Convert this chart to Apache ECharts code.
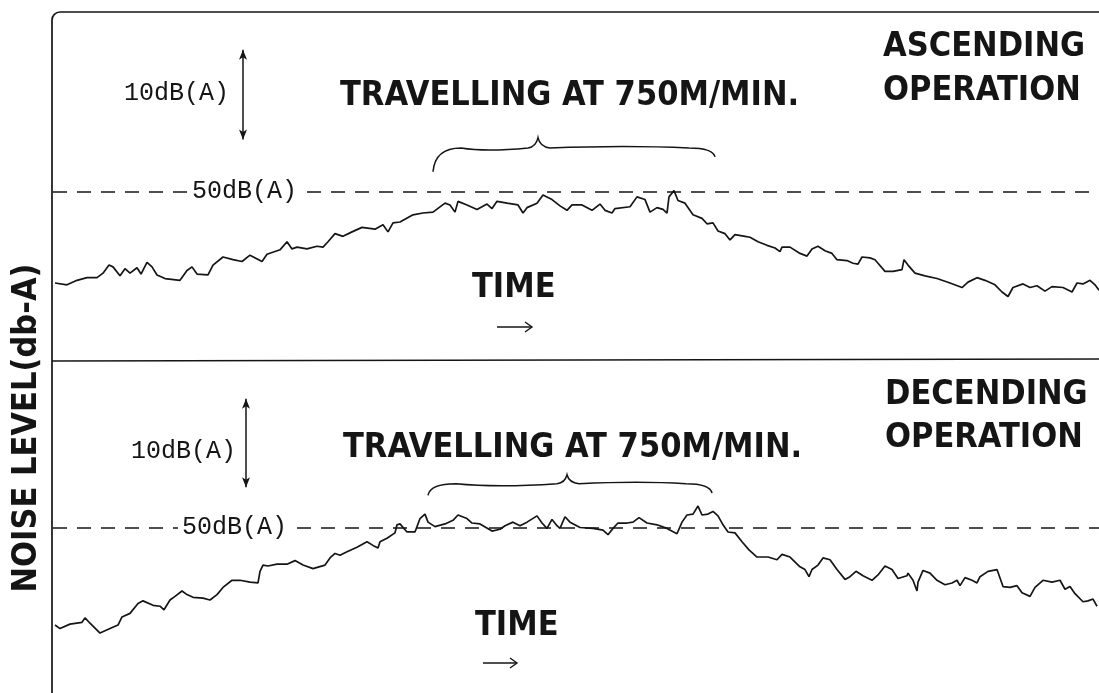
<!DOCTYPE html>
<html><head><meta charset="utf-8">
<script src="https://cdn.jsdelivr.net/npm/echarts@6/dist/echarts.min.js"></script>
<style>html,body{margin:0;padding:0;background:#fff}#c{width:1099px;height:693px}</style>
</head><body><div id="c"></div>
<script>
// time (arbitrary units) , noise level dB(A)
const ascendingTrace = [[0.2,39.8],[0.4,39.6],[1.4,39.6],[2.4,40.1],[3.4,40.4],[4.4,40.4],[5.0,40.9],[5.6,41.8],[6.0,41.6],[6.7,40.6],[7.2,41.4],[7.7,40.9],[8.4,41.5],[8.8,40.8],[9.4,42.1],[9.9,41.6],[10.4,40.7],[11.2,40.3],[12.7,40.1],[13.4,41.2],[13.9,41.6],[14.4,40.8],[15.5,40.7],[16.0,41.8],[17.0,42.7],[18.0,42.4],[18.9,42.2],[19.7,42.9],[20.9,42.2],[21.4,43.0],[22.7,43.5],[23.4,44.4],[23.9,43.6],[24.4,43.8],[25.4,43.6],[26.4,43.9],[27.0,43.8],[27.5,44.4],[28.2,45.3],[29.0,45.0],[29.9,45.5],[30.9,46.0],[32.2,45.8],[33.0,46.3],[33.5,45.5],[34.0,46.5],[34.7,46.6],[36.0,47.4],[37.0,47.6],[38.0,47.7],[39.2,48.7],[39.7,48.5],[40.2,47.7],[40.5,48.9],[41.4,48.5],[42.4,48.0],[43.4,48.6],[43.9,48.1],[44.4,48.9],[45.4,48.7],[46.5,48.5],[47.0,47.6],[47.4,48.2],[48.4,48.7],[49.0,49.6],[49.9,49.1],[50.7,48.4],[51.4,47.9],[51.9,48.5],[52.9,48.5],[53.9,47.9],[54.7,48.6],[55.2,47.9],[55.9,47.6],[56.2,48.1],[57.7,48.3],[58.4,49.4],[59.2,49.1],[59.7,47.7],[60.4,48.2],[61.0,48.0],[61.4,47.6],[61.6,49.4],[62.1,50.1],[62.5,49.0],[63.2,48.7],[64.0,47.4],[64.9,47.0],[65.4,46.4],[66.0,46.5],[66.5,45.6],[67.2,45.3],[67.7,44.6],[68.2,45.2],[69.2,45.0],[69.7,44.9],[70.5,44.4],[71.4,44.0],[72.2,43.7],[72.7,43.3],[72.9,43.8],[73.7,43.8],[74.7,43.1],[75.4,42.8],[75.9,43.6],[76.5,43.9],[77.2,43.4],[77.9,43.1],[78.4,42.4],[79.4,42.3],[80.0,42.0],[80.5,41.9],[80.9,42.7],[81.7,42.6],[82.2,42.4],[82.5,42.0],[83.2,41.1],[84.0,41.1],[84.9,41.3],[85.1,42.4],[85.5,41.8],[86.2,40.9],[87.2,40.6],[88.4,40.3],[89.7,39.8],[90.9,39.3],[91.5,39.9],[92.4,40.4],[93.2,40.1],[94.2,39.6],[94.9,38.8],[95.5,38.3],[96.0,39.3],[97.0,39.7],[97.7,39.3],[98.4,39.5],[99.2,38.9],[99.9,39.4],[101.0,39.3],[101.9,38.8],[102.4,39.8],[103.0,39.7],[103.7,40.1],[104.2,39.6],[104.6,39.0]];

const descendingTrace = [[0.2,39.1],[0.7,38.7],[1.7,39.2],[2.9,39.4],[3.2,39.9],[3.7,39.3],[4.7,38.2],[5.7,38.7],[6.5,39.1],[6.9,40.0],[7.7,40.4],[8.5,41.5],[9.0,41.8],[10.0,41.3],[10.7,41.2],[11.1,40.8],[11.7,41.9],[12.2,42.3],[12.9,42.9],[13.4,42.5],[14.0,42.2],[15.0,42.1],[15.7,41.9],[16.4,42.5],[17.0,43.3],[17.9,44.1],[18.7,44.1],[19.7,43.9],[20.5,43.8],[20.7,45.1],[21.0,45.8],[21.5,45.7],[22.4,45.9],[23.4,45.9],[24.2,46.3],[25.0,45.8],[26.0,45.4],[27.2,45.8],[27.7,46.6],[28.2,47.1],[28.7,46.9],[29.4,47.3],[30.4,47.8],[31.4,48.4],[32.0,48.0],[32.5,47.7],[32.7,48.4],[33.4,48.8],[34.2,49.4],[34.4,50.3],[34.7,50.4],[35.4,49.5],[36.2,49.5],[36.7,51.0],[37.2,51.5],[37.5,50.6],[38.2,50.1],[39.2,50.4],[40.0,50.8],[40.5,51.4],[41.4,51.0],[41.9,50.5],[42.7,50.4],[43.9,49.6],[44.7,49.8],[45.2,50.2],[46.0,50.6],[46.7,50.2],[47.4,50.6],[48.4,51.3],[48.9,50.5],[49.4,49.9],[49.9,50.9],[50.4,50.2],[50.7,49.9],[51.2,51.2],[51.7,50.6],[52.7,50.0],[54.0,49.9],[55.0,49.7],[55.5,49.2],[56.0,49.9],[56.5,50.5],[57.4,50.5],[58.0,50.6],[58.6,51.1],[59.4,50.5],[60.4,50.3],[61.4,49.9],[62.4,49.3],[62.9,50.6],[63.4,51.4],[64.0,51.5],[64.5,52.4],[64.9,51.4],[65.5,51.5],[66.0,51.8],[66.5,51.3],[67.0,50.3],[67.5,49.5],[68.2,49.4],[68.9,48.4],[69.6,47.5],[70.4,46.7],[71.5,46.7],[72.4,46.4],[72.9,47.0],[73.7,46.7],[74.7,45.6],[75.2,45.3],[75.6,44.5],[75.9,45.3],[76.5,45.8],[77.0,46.6],[77.7,46.4],[78.4,45.3],[79.2,44.2],[79.7,44.5],[80.3,45.1],[81.0,44.6],[81.9,44.1],[82.5,44.7],[83.2,45.7],[83.9,45.3],[84.5,44.3],[85.4,44.6],[85.5,44.9],[86.0,44.1],[86.4,42.9],[86.5,43.9],[87.0,45.2],[87.7,44.9],[88.4,44.1],[89.2,43.6],[89.9,43.8],[90.4,44.1],[90.7,43.5],[91.2,44.4],[91.9,44.1],[92.4,43.8],[92.7,44.5],[93.5,45.1],[94.4,45.3],[95.0,43.4],[95.7,43.3],[96.4,43.5],[96.9,42.7],[97.7,42.3],[98.2,43.3],[99.0,44.1],[99.9,43.9],[100.7,44.1],[101.2,43.1],[101.7,43.4],[102.2,42.6],[103.0,41.7],[103.5,41.8],[104.0,42.0],[104.4,41.2]];

const timeRange = [0, 104.6];
const panelLevelRanges = [[31, 70], [31.5, 68.5]];
const referenceLevel = 50;
const referenceLabel = '50dB(A)';
const scaleBarLabel = '10dB(A)';
// reference dashed line gaps (label space) per panel, in time units
const refGaps = [[13.5, 25.4], [12.5, 24.4]];
// 10 dB scale bar: [time, from dB, to dB]
const scaleBars = [[19.0, 55.8, 65.8], [19.3, 54.5, 64.4]];
// braces marking the 750 m/min travel: [tStart, dBStart, tTip, dBTip, tEnd, dBEnd, dBBody]
const braces = [[38.0, 52.2, 48.5, 56.0, 66.2, 53.85, 54.85], [37.5, 53.6, 51.4, 55.9, 65.9, 53.85, 54.9]];
const panelTitles = [['ASCENDING', 'OPERATION'], ['DECENDING', 'OPERATION']];
const travelLabel = 'TRAVELLING AT 750M/MIN.';
const timeLabel = 'TIME';
const yTitle = 'NOISE LEVEL(db-A)';

const INK = '#151515';
const HEAD_FONT = "'DejaVu Sans Condensed','Liberation Sans Narrow','DejaVu Sans',sans-serif";
const MONO_FONT = "'Liberation Mono','DejaVu Sans Mono',monospace";

function panelSeries(trace, idx) {
  const g = refGaps[idx], sb = scaleBars[idx];
  return {
    type: 'line', xAxisIndex: idx, yAxisIndex: idx, data: trace,
    symbol: 'none', silent: true, animation: false,
    lineStyle: { color: INK, width: 1.7 },
    markLine: {
      silent: true, animation: false, symbol: 'none',
      label: { show: false },
      data: [
        [{ coord: [timeRange[0], referenceLevel],
           label: { show: true, position: 'end', distance: 4, formatter: referenceLabel,
                    color: INK, fontFamily: MONO_FONT, fontSize: 25 },
           lineStyle: { color: INK, width: 1.6, type: [14, 10] } },
         { coord: [g[0], referenceLevel] }],
        [{ coord: [g[1], referenceLevel], lineStyle: { color: INK, width: 1.6, type: [14, 10] } },
         { coord: [timeRange[1], referenceLevel] }],
        [{ coord: [sb[0], sb[1]], symbol: 'arrow', symbolSize: [6, 10],
           lineStyle: { color: INK, width: 1.5, type: 'solid' } },
         { coord: [sb[0], sb[2]], symbol: 'arrow', symbolSize: [6, 10] }]
      ]
    }
  };
}

function braceSeries(idx) {
  return {
    type: 'custom', xAxisIndex: idx, yAxisIndex: idx, silent: true, animation: false,
    data: [braces[idx]],
    renderItem: function (params, api) {
      const p0 = api.coord([api.value(0), api.value(1)]);
      const pt = api.coord([api.value(2), api.value(3)]);
      const p1 = api.coord([api.value(4), api.value(5)]);
      const yb = api.coord([api.value(2), api.value(6)])[1];
      const d = `M${p0[0]},${p0[1]} Q${p0[0] + 2},${yb} ${p0[0] + 28},${yb} ` +
        `Q${(p0[0] + pt[0]) / 2},${yb + 4} ${pt[0] - 10},${yb} Q${pt[0] - 2},${yb - 1} ${pt[0]},${pt[1]} ` +
        `Q${pt[0] + 2},${yb - 1} ${pt[0] + 12},${yb} Q${(pt[0] + p1[0]) / 2},${yb - 3} ${p1[0] - 26},${yb} ` +
        `Q${p1[0] - 2},${yb} ${p1[0]},${p1[1]}`;
      return { type: 'path', shape: { pathData: d },
               style: { fill: 'none', stroke: INK, lineWidth: 1.5 } };
    }
  };
}

function txt(text, x, y, opts) {
  opts = opts || {};
  return {
    type: 'text', x: x, y: y, rotation: opts.rotation || 0, silent: true,
    style: {
      text: text, fill: INK,
      font: (opts.weight || 'bold') + ' ' + (opts.size || 34) + 'px ' + (opts.family || HEAD_FONT),
      textAlign: opts.align || 'left', align: opts.align || 'left',
      textVerticalAlign: 'middle', verticalAlign: 'middle'
    }
  };
}

function timeArrow(x0, x1, y) {
  return {
    type: 'group', silent: true, children: [
      { type: 'line', shape: { x1: x0, y1: y, x2: x1, y2: y }, style: { stroke: INK, lineWidth: 1.4 } },
      { type: 'polyline', shape: { points: [[x1 - 7, y - 5], [x1, y], [x1 - 7, y + 5]] },
        style: { stroke: INK, lineWidth: 1.4, fill: 'none' } }
    ]
  };
}

const chart = echarts.init(document.getElementById('c'), null, { renderer: 'canvas' });
chart.setOption({
  animation: false,
  backgroundColor: '#ffffff',
  grid: [
    { left: 53, right: 0, top: 12, height: 350 },
    { left: 53, right: 0, top: 362, height: 331 }
  ],
  xAxis: [0, 1].map(i => ({ type: 'value', gridIndex: i, min: timeRange[0], max: timeRange[1], show: false })),
  yAxis: [0, 1].map(i => ({ type: 'value', gridIndex: i, min: panelLevelRanges[i][0], max: panelLevelRanges[i][1],
                            show: false, splitLine: { show: false } })),
  series: [panelSeries(ascendingTrace, 0), panelSeries(descendingTrace, 1), braceSeries(0), braceSeries(1)],
  graphic: [
    { type: 'rect', silent: true, shape: { x: 52, y: 12, width: 1200, height: 800, r: [8, 0, 0, 0] },
      style: { fill: 'none', stroke: INK, lineWidth: 1.7 } },
    { type: 'line', silent: true, shape: { x1: 52, y1: 361, x2: 1099, y2: 359 }, style: { stroke: INK, lineWidth: 1.7 } },
    txt(yTitle, 27, 428, { rotation: Math.PI / 2, align: 'center' }),
    txt(scaleBarLabel, 124, 93, { weight: 'normal', size: 25, family: MONO_FONT }),
    txt(scaleBarLabel, 131, 451, { weight: 'normal', size: 25, family: MONO_FONT }),
    txt(travelLabel, 340, 96),
    txt(travelLabel, 343, 448),
    txt(panelTitles[0][0], 883, 47),
    txt(panelTitles[0][1], 883, 91),
    txt(panelTitles[1][0], 885, 395),
    txt(panelTitles[1][1], 885, 438),
    txt(timeLabel, 472, 288),
    txt(timeLabel, 475, 626),
    timeArrow(497, 532, 327),
    timeArrow(483, 517, 663)
  ]
});
</script>
</body></html>
